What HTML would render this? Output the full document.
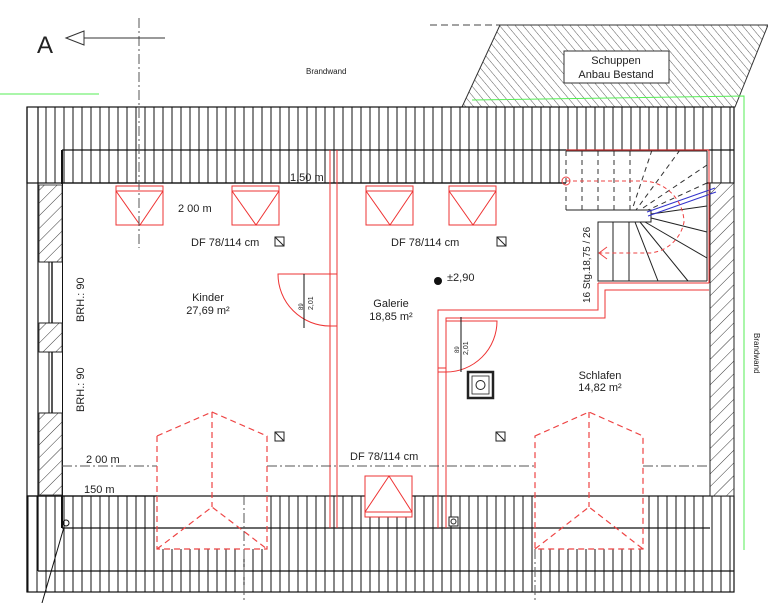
<!DOCTYPE html>
<html><head><meta charset="utf-8"><style>
html,body{margin:0;padding:0;background:#fff}
svg{display:block}
text{font-family:"Liberation Sans",sans-serif;fill:#222}
</style></head><body>
<svg width="768" height="603" viewBox="0 0 768 603" xmlns="http://www.w3.org/2000/svg">
<defs>
<pattern id="vh" width="9" height="10" patternUnits="userSpaceOnUse" x="0.5">
<line x1="0.5" y1="0" x2="0.5" y2="10" stroke="#111" stroke-width="1"/>
</pattern>
<pattern id="dh" width="9" height="9" patternUnits="userSpaceOnUse" patternTransform="rotate(45)">
<line x1="0" y1="0" x2="0" y2="9" stroke="#222" stroke-width="0.9"/>
</pattern>
<pattern id="sh" width="6" height="6" patternUnits="userSpaceOnUse" patternTransform="rotate(-40)">
<line x1="0" y1="0" x2="0" y2="6" stroke="#333" stroke-width="0.8"/>
</pattern>
</defs>

<!-- shed -->
<line x1="430" y1="25" x2="768" y2="25" stroke="#444" stroke-width="1" stroke-dasharray="7,4"/>
<polygon points="500,25 768,25 735,107 462,107" fill="url(#sh)" stroke="#333" stroke-width="1"/>
<rect x="564" y="51" width="105" height="32" fill="#fff" stroke="#333" stroke-width="1"/>
<text x="616" y="64" font-size="11" text-anchor="middle">Schuppen</text>
<text x="616" y="78" font-size="11" text-anchor="middle">Anbau Bestand</text>

<!-- green lines -->
<line x1="0" y1="94" x2="99" y2="94" stroke="#5e5" stroke-width="1"/>
<polyline points="472,100 744,96 744,550" fill="none" stroke="#5e5" stroke-width="1"/>

<!-- top roof band -->
<rect x="27" y="107" width="707" height="76" fill="url(#vh)"/>
<rect x="27" y="107" width="11" height="76" fill="#fff"/>
<rect x="27" y="107" width="707" height="76" fill="none" stroke="#111" stroke-width="1.2"/>
<line x1="62" y1="150" x2="734" y2="150" stroke="#111" stroke-width="1.2"/>
<line x1="38" y1="107" x2="38" y2="571" stroke="#111" stroke-width="1.2"/>
<line x1="62" y1="150" x2="62" y2="496" stroke="#111" stroke-width="2"/>

<!-- bottom roof band -->
<rect x="27" y="496" width="707" height="96" fill="url(#vh)"/>
<rect x="157" y="496" width="110" height="53" fill="#fff"/>
<rect x="535" y="496" width="108" height="53" fill="#fff"/>
<rect x="27" y="496" width="707" height="96" fill="none" stroke="#111" stroke-width="1.2"/>
<line x1="62" y1="528" x2="710" y2="528" stroke="#111" stroke-width="1.2"/>
<line x1="38" y1="571" x2="734" y2="571" stroke="#111" stroke-width="1.2"/>
<line x1="27" y1="496" x2="157" y2="496" stroke="#111" stroke-width="1.2"/>

<!-- left wall -->
<rect x="39" y="184" width="23" height="311" fill="#fff"/>
<rect x="39" y="185" width="23" height="77" fill="url(#dh)" stroke="#222" stroke-width="0.8"/>
<rect x="39" y="323" width="23" height="29" fill="url(#dh)" stroke="#222" stroke-width="0.8"/>
<rect x="39" y="413" width="23" height="82" fill="url(#dh)" stroke="#222" stroke-width="0.8"/>
<line x1="39" y1="262" x2="62" y2="262" stroke="#222"/><line x1="39" y1="323" x2="62" y2="323" stroke="#222"/>
<line x1="39" y1="352" x2="62" y2="352" stroke="#222"/><line x1="39" y1="413" x2="62" y2="413" stroke="#222"/>
<line x1="49" y1="262" x2="49" y2="323" stroke="#111" stroke-width="1"/><line x1="52" y1="262" x2="52" y2="323" stroke="#111" stroke-width="1.4"/>
<line x1="49" y1="352" x2="49" y2="413" stroke="#111" stroke-width="1"/><line x1="52" y1="352" x2="52" y2="413" stroke="#111" stroke-width="1.4"/>
<line x1="27" y1="107" x2="27" y2="592" stroke="#111" stroke-width="1.2"/>
<line x1="62" y1="496" x2="62" y2="528" stroke="#111" stroke-width="2"/>
<circle cx="66" cy="523" r="3" fill="none" stroke="#111"/>
<line x1="64" y1="527" x2="42" y2="603" stroke="#111" stroke-width="1"/>

<!-- right wall -->
<rect x="710" y="183" width="24" height="313" fill="#fff"/>
<rect x="710" y="183" width="24" height="313" fill="url(#dh)" stroke="#222" stroke-width="1"/>

<!-- interior white floor -->
<rect x="63" y="184" width="646" height="311" fill="#fff"/>
<line x1="62" y1="183" x2="710" y2="183" stroke="#111" stroke-width="1.2"/>

<!-- staircase -->
<rect x="566" y="151" width="141" height="59" fill="#fff"/>
<g stroke="#333" stroke-width="1" stroke-dasharray="5,4" fill="none">
<line x1="566" y1="151" x2="566" y2="210"/><line x1="582" y1="151" x2="582" y2="210"/>
<line x1="598" y1="151" x2="598" y2="210"/><line x1="614" y1="151" x2="614" y2="210"/>
<line x1="630" y1="151" x2="630" y2="210"/>
<line x1="652" y1="150" x2="632" y2="210"/><line x1="680" y1="150" x2="636" y2="210"/>
<line x1="707" y1="165" x2="640" y2="210"/>
<line x1="707" y1="183" x2="648" y2="210"/>
</g>
<g stroke="#222" stroke-width="1" fill="none">
<polyline points="566,210 651,210 651,222 598,222 598,281 707,281"/>
<line x1="566" y1="151" x2="707" y2="151"/>
<line x1="707" y1="151" x2="707" y2="281"/>
<line x1="613" y1="222" x2="613" y2="281"/><line x1="629" y1="222" x2="629" y2="281"/>
<line x1="635" y1="222" x2="658" y2="281"/><line x1="640" y1="222" x2="688" y2="281"/>
<line x1="645" y1="222" x2="707" y2="258"/><line x1="651" y1="218" x2="707" y2="232"/>
<line x1="651" y1="214" x2="707" y2="206"/>
</g>
<line x1="647" y1="212" x2="715" y2="188" stroke="#33c" stroke-width="1"/>
<line x1="648" y1="216" x2="716" y2="192" stroke="#33c" stroke-width="1"/>
<path d="M566,181 L640,181 A42,42 0 0 1 684,222 A38,38 0 0 1 650,253 L599,253" fill="none" stroke="#e44" stroke-width="1" stroke-dasharray="4,3"/>
<circle cx="566" cy="181" r="4" fill="none" stroke="#e44"/>
<polyline points="607,247 599,253 607,259" fill="none" stroke="#e44"/>
<text transform="translate(590,303) rotate(-90)" font-size="10">16 Stg.18,75 / 26</text>

<!-- red walls -->
<g stroke="#e33" stroke-width="1" fill="none">
<line x1="566" y1="150" x2="709" y2="150"/>
<line x1="709" y1="150" x2="709" y2="283"/>
<polyline points="598,283 709,283"/>
<polyline points="709,290 605,290 605,318 446,318 446,528"/>
<polyline points="598,283 598,310 438,310 438,528"/>
<line x1="330" y1="150" x2="330" y2="528"/>
<line x1="337" y1="150" x2="337" y2="528"/>
<path d="M330,274 L278,274 A52,52 0 0 0 330,326" />
<line x1="330" y1="326" x2="337" y2="326"/>
<line x1="330" y1="274" x2="337" y2="274"/>
<path d="M446,321 L497,321 A51,51 0 0 1 446,372"/>
<line x1="438" y1="372" x2="446" y2="372"/><line x1="438" y1="368" x2="446" y2="368"/>
</g>
<line x1="304" y1="274" x2="304" y2="328" stroke="#111"/>
<line x1="461" y1="317" x2="461" y2="372" stroke="#111"/>
<text transform="translate(303,310) rotate(-90)" font-size="6">89</text>
<text transform="translate(313,310) rotate(-90)" font-size="7">2,01</text>
<text transform="translate(459,353) rotate(-90)" font-size="6">89</text>
<text transform="translate(468,355) rotate(-90)" font-size="7">2,01</text>

<!-- skylights -->
<g stroke="#e33" stroke-width="1" fill="#fff">
<rect x="116" y="186" width="47" height="39"/><polyline points="116,191 163,191" fill="none"/><polyline points="116,191 140,225 163,191" fill="none"/>
<rect x="232" y="186" width="47" height="39"/><polyline points="232,191 279,191" fill="none"/><polyline points="232,191 256,225 279,191" fill="none"/>
<rect x="366" y="186" width="47" height="39"/><polyline points="366,191 413,191" fill="none"/><polyline points="366,191 390,225 413,191" fill="none"/>
<rect x="449" y="186" width="47" height="39"/><polyline points="449,191 496,191" fill="none"/><polyline points="449,191 473,225 496,191" fill="none"/>
<rect x="365" y="476" width="47" height="41"/><polyline points="365,512 412,512" fill="none"/><polyline points="365,512 389,476 412,512" fill="none"/>
</g>

<!-- dash-dot lines -->
<g stroke="#555" stroke-width="1" stroke-dasharray="10,3,2,3">
<line x1="62" y1="466" x2="157" y2="466"/><line x1="267" y1="466" x2="535" y2="466"/><line x1="643" y1="466" x2="710" y2="466"/>
<line x1="139" y1="18" x2="139" y2="248"/>
<line x1="244" y1="495" x2="244" y2="603"/>
<line x1="535" y1="549" x2="535" y2="603"/>
</g>

<!-- dormers -->
<g stroke="#e44" stroke-width="1.2" fill="none" stroke-dasharray="6,4">
<polygon points="157,436 212,412 267,436 267,549 157,549"/>
<line x1="212" y1="412" x2="212" y2="507"/><polyline points="157,549 212,507 267,549"/>
<polygon points="535,436 589,412 643,436 643,549 535,549"/>
<line x1="589" y1="412" x2="589" y2="507"/><polyline points="535,549 589,507 643,549"/>
</g>

<!-- small symbols -->
<g fill="#fff" stroke="#222" stroke-width="1">
<rect x="275" y="237" width="9" height="9"/><line x1="275" y1="237" x2="284" y2="246"/>
<rect x="497" y="237" width="9" height="9"/><line x1="497" y1="237" x2="506" y2="246"/>
<rect x="275" y="432" width="9" height="9"/><line x1="275" y1="432" x2="284" y2="441"/>
<rect x="496" y="432" width="9" height="9"/><line x1="496" y1="432" x2="505" y2="441"/>
<rect x="449" y="517" width="9" height="9"/><circle cx="453.5" cy="521.5" r="2.5"/>
</g>
<rect x="468" y="372" width="25" height="26" fill="#fff" stroke="#222" stroke-width="2.5"/>
<rect x="472" y="376" width="17" height="18" fill="#fff" stroke="#222" stroke-width="0.8"/>
<circle cx="480.5" cy="385" r="4.5" fill="none" stroke="#222"/>
<circle cx="438" cy="281" r="4" fill="#111"/>

<!-- arrow A -->
<text x="37" y="53" font-size="24" fill="#333">A</text>
<polygon points="66,38 84,31 84,45" fill="#fff" stroke="#333"/>
<line x1="84" y1="38" x2="165" y2="38" stroke="#333"/>

<!-- texts -->
<text x="306" y="74" font-size="8">Brandwand</text>
<text transform="translate(754,333) rotate(90)" font-size="8">Brandwand</text>
<text x="290" y="181" font-size="11">1,50 m</text>
<text x="178" y="212" font-size="11">2 00 m</text>
<text x="191" y="246" font-size="11">DF 78/114 cm</text>
<text x="391" y="246" font-size="11">DF 78/114 cm</text>
<text x="447" y="281" font-size="11">±2,90</text>
<text x="208" y="301" font-size="11" text-anchor="middle">Kinder</text>
<text x="208" y="314" font-size="11" text-anchor="middle">27,69 m²</text>
<text x="391" y="307" font-size="11" text-anchor="middle">Galerie</text>
<text x="391" y="320" font-size="11" text-anchor="middle">18,85 m²</text>
<text x="600" y="379" font-size="11" text-anchor="middle">Schlafen</text>
<text x="600" y="391" font-size="11" text-anchor="middle">14,82 m²</text>
<text transform="translate(84,322) rotate(-90)" font-size="11">BRH.: 90</text>
<text transform="translate(84,412) rotate(-90)" font-size="11">BRH.: 90</text>
<text x="86" y="463" font-size="11">2 00 m</text>
<text x="84" y="493" font-size="11">150 m</text>
<text x="350" y="460" font-size="11">DF 78/114 cm</text>
</svg>
</body></html>
